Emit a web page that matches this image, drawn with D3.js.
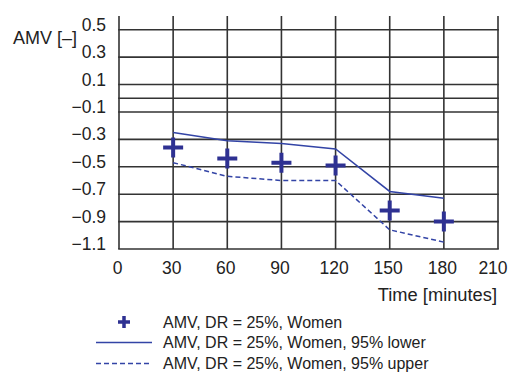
<!DOCTYPE html>
<html>
<head>
<meta charset="utf-8">
<script src="https://d3js.org/d3.v7.min.js"></script>
<style>
  body { margin: 0; background: #fff; }
  svg { display: block; font-family: "Liberation Sans", Arial, sans-serif; }
</style>
</head>
<body>
<svg id="chart" width="511" height="372"></svg>
<script>
// time points (minutes)
var times = [30, 60, 90, 120, 150, 180];
// AMV means, women, DR = 25%
var amvMean = [-0.36, -0.44, -0.47, -0.49, -0.82, -0.90];
// 95% lower (solid line)
var amvLower = [-0.25, -0.31, -0.33, -0.37, -0.68, -0.73];
// 95% upper (dashed line)
var amvUpper = [-0.47, -0.57, -0.60, -0.60, -0.96, -1.05];

var xTicks = [0, 30, 60, 90, 120, 150, 180, 210];
var yTicks = [0.5, 0.3, 0.1, -0.1, -0.3, -0.5, -0.7, -0.9, -1.1];
var yGrid = [0.5, 0.3, 0.1, 0, -0.1, -0.3, -0.5, -0.7, -0.9];

var legendLabels = [
    "AMV, DR = 25%, Women",
    "AMV, DR = 25%, Women, 95% lower",
    "AMV, DR = 25%, Women, 95% upper"
];

var svg = d3.select("#chart");
var gridColor = "#333";
var markColor = "#2e3192";
var lineColor = "#3344a6";

var x = d3.scaleLinear().domain([0, 210]).range([119, 498]);
var y = d3.scaleLinear().domain([0.6, -1.1]).range([16, 249]);

// vertical grid lines (incl. left axis and right edge)
svg.append("g")
    .selectAll("line")
    .data(xTicks)
    .enter()
    .append("line")
    .attr("x1", d => x(d)).attr("x2", d => x(d))
    .attr("y1", y(0.6)).attr("y2", y(-1.1))
    .attr("stroke", gridColor)
    .attr("stroke-width", 1.6);

// horizontal grid lines
svg.append("g")
    .selectAll("line")
    .data(yGrid.concat([-1.1]))
    .enter()
    .append("line")
    .attr("x1", x(0) - 0.8).attr("x2", x(210) + 0.8)
    .attr("y1", d => y(d)).attr("y2", d => y(d))
    .attr("stroke", gridColor)
    .attr("stroke-width", 1.6);

// y tick labels (sit a bit above their lines)
svg.append("g")
    .selectAll("text")
    .data(yTicks)
    .enter()
    .append("text")
    .attr("x", 106)
    .attr("y", d => y(d) - 5)
    .attr("dy", "0.35em")
    .attr("text-anchor", "end")
    .attr("font-size", 17.5)
    .attr("fill", "#222")
    .text(d => d3.format(".1f")(d).replace("-", "\u2212"));

// x tick labels (last one pulled in so it stays on the page)
svg.append("g")
    .selectAll("text")
    .data(xTicks)
    .enter()
    .append("text")
    .attr("x", d => x(d) - (d == 210 ? 5 : 1.5))
    .attr("y", 274)
    .attr("text-anchor", "middle")
    .attr("font-size", 17.5)
    .attr("fill", "#222")
    .text(d => d);

// axis titles
svg.append("text")
    .attr("x", 13).attr("y", 44)
    .attr("font-size", 18)
    .attr("fill", "#222")
    .text("AMV [\u2013]");

svg.append("text")
    .attr("x", 497).attr("y", 301)
    .attr("text-anchor", "end")
    .attr("font-size", 18.3)
    .attr("fill", "#222")
    .text("Time [minutes]");

// lines
var line = d3.line()
    .x((d, i) => x(times[i]))
    .y(d => y(d));

svg.append("path")
    .datum(amvLower)
    .attr("d", line)
    .attr("fill", "none")
    .attr("stroke", lineColor)
    .attr("stroke-width", 1.5);

svg.append("path")
    .datum(amvUpper)
    .attr("d", line)
    .attr("fill", "none")
    .attr("stroke", lineColor)
    .attr("stroke-width", 1.5)
    .attr("stroke-dasharray", "5,3");

// plus markers
svg.append("g")
    .selectAll("path")
    .data(amvMean)
    .enter()
    .append("path")
    .attr("d", (d, i) => "M" + (x(times[i]) - 10) + "," + y(d) + "H" + (x(times[i]) + 10) +
        "M" + x(times[i]) + "," + (y(d) - 10) + "V" + (y(d) + 10))
    .attr("stroke", markColor)
    .attr("stroke-width", 4)
    .attr("fill", "none");

// legend
var lg = svg.append("g");
lg.append("path")
    .attr("d", "M118,322H130M124,316V328")
    .attr("stroke", markColor)
    .attr("stroke-width", 3.5);
lg.append("line")
    .attr("x1", 96).attr("x2", 152)
    .attr("y1", 342.5).attr("y2", 342.5)
    .attr("stroke", lineColor)
    .attr("stroke-width", 1.5);
lg.append("line")
    .attr("x1", 96).attr("x2", 152)
    .attr("y1", 363.5).attr("y2", 363.5)
    .attr("stroke", lineColor)
    .attr("stroke-width", 1.5)
    .attr("stroke-dasharray", "5,3");

lg.selectAll("text")
    .data(legendLabels)
    .enter()
    .append("text")
    .attr("x", 163)
    .attr("y", (d, i) => 322 + i * 20.7)
    .attr("dy", "0.35em")
    .attr("font-size", 16)
    .attr("fill", "#222")
    .text(d => d);
</script>
</body>
</html>
